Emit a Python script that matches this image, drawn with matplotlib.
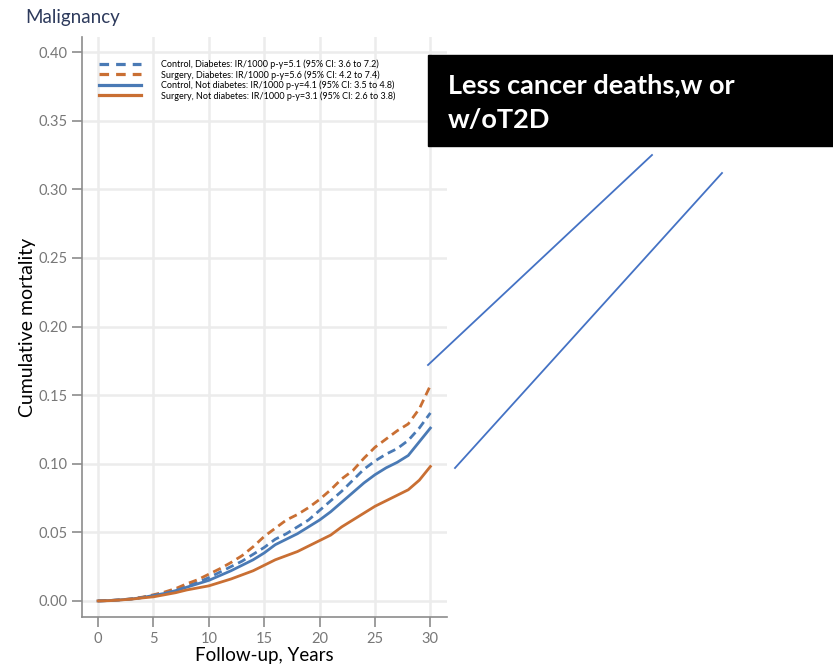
import matplotlib
matplotlib.use("agg")
import matplotlib.pyplot as plt
from matplotlib.patches import Rectangle
from matplotlib.lines import Line2D

plt.rcParams["font.family"] = ["Lato", "DejaVu Sans"]

years = list(range(31))

surgery_diab = [0, 0.0003, 0.0008, 0.0015, 0.0028, 0.0045, 0.0065, 0.009, 0.0125, 0.0155,
                0.0195, 0.0235, 0.028, 0.033, 0.0395, 0.047, 0.053, 0.059, 0.063, 0.068,
                0.074, 0.081, 0.089, 0.095, 0.104, 0.112, 0.118, 0.124, 0.129, 0.140, 0.157]
control_diab = [0, 0.0003, 0.0008, 0.0015, 0.0025, 0.004, 0.006, 0.008, 0.011, 0.0135,
                0.017, 0.021, 0.025, 0.029, 0.034, 0.039, 0.045, 0.049, 0.054, 0.059,
                0.066, 0.073, 0.080, 0.088, 0.096, 0.102, 0.107, 0.111, 0.117, 0.126, 0.137]
control_nodiab = [0, 0.0003, 0.0008, 0.0014, 0.0025, 0.004, 0.0055, 0.0075, 0.010, 0.0125,
                  0.015, 0.0185, 0.022, 0.026, 0.030, 0.035, 0.041, 0.045, 0.049, 0.054,
                  0.059, 0.065, 0.072, 0.079, 0.086, 0.092, 0.097, 0.101, 0.106, 0.116, 0.126]
surgery_nodiab = [0, 0.0002, 0.0007, 0.0013, 0.0022, 0.003, 0.0045, 0.006, 0.008, 0.0095,
                  0.011, 0.0135, 0.016, 0.019, 0.022, 0.026, 0.030, 0.033, 0.036, 0.040,
                  0.044, 0.048, 0.054, 0.059, 0.064, 0.069, 0.073, 0.077, 0.081, 0.088, 0.098]

labels = [
    "Control, Diabetes: IR/1000 p-y=5.1 (95% CI: 3.6 to 7.2)",
    "Surgery, Diabetes: IR/1000 p-y=5.6 (95% CI: 4.2 to 7.4)",
    "Control, Not diabetes: IR/1000 p-y=4.1 (95% CI: 3.5 to 4.8)",
    "Surgery, Not diabetes: IR/1000 p-y=3.1 (95% CI: 2.6 to 3.8)",
]
xticks = [0, 5, 10, 15, 20, 25, 30]
yticks = [0.0, 0.05, 0.10, 0.15, 0.20, 0.25, 0.30, 0.35, 0.40]

blue = "#4a7ab5"
orange = "#c96f33"
grey = "#8c8c8c"

fig = plt.figure(figsize=(8.33, 6.69), dpi=100)
ax = fig.add_axes([82 / 833, 1 - 617 / 669, 365 / 833, 580 / 669])

series = [
    (control_diab, blue, True),
    (surgery_diab, orange, True),
    (control_nodiab, blue, False),
    (surgery_nodiab, orange, False),
]
handles = []
for vals, col, dashed in series:
    ls = (0, (3, 1.8)) if dashed else "-"
    ax.plot(years, vals, color=col, ls=ls, lw=2)
    hls = (0, (3, 2.2)) if dashed else "-"
    handles.append(Line2D([], [], color=col, ls=hls, lw=2.3))

ax.set_xlim(-1.45, 31.5)
ax.set_ylim(-0.0117, 0.411)
ax.set_xticks(xticks)
ax.set_yticks(yticks)
ax.set_yticklabels([f"{v:.2f}" for v in yticks])
ax.grid(True, color="#ececec", lw=1.8)
ax.set_axisbelow(True)
for s in ["top", "right"]:
    ax.spines[s].set_visible(False)
for s in ["left", "bottom"]:
    ax.spines[s].set_color(grey)
    ax.spines[s].set_linewidth(1.2)
ax.tick_params(colors=grey, labelcolor="#777777", labelsize=10.5, length=7, width=1.2)

ax.set_xlabel("Follow-up, Years", fontsize=13.5, labelpad=1)
ax.set_ylabel("Cumulative mortality", fontsize=14, labelpad=2)

ax.legend(handles, labels, loc="upper left", bbox_to_anchor=(0.025, 0.975), frameon=False,
          fontsize=6.5, handlelength=4.6, handletextpad=2.2, labelspacing=0.1)

fig.text(25 / 833, 1 - 18 / 669, "Malignancy", fontsize=13.5, color="#2d3a5c",
         va="center", ha="left")

# annotation box with callout lines
fig.patches.append(Rectangle((428 / 833, 1 - 146 / 669), 405 / 833, 91 / 669,
                             transform=fig.transFigure, color="black", zorder=5))
fig.text(448 / 833, 1 - 85 / 669, "Less cancer deaths,w or", fontsize=19.5,
         fontweight="bold", color="white", va="center", ha="left", zorder=6)
fig.text(448 / 833, 1 - 120 / 669, "w/oT2D", fontsize=19.5,
         fontweight="bold", color="white", va="center", ha="left", zorder=6)
for (x0, y0), (x1, y1) in [((428, 365), (652, 155)), ((455, 468), (722, 173))]:
    fig.add_artist(Line2D([x0 / 833, x1 / 833], [1 - y0 / 669, 1 - y1 / 669],
                          transform=fig.transFigure, color="#4472c4", lw=1.3))

fig.savefig("out.png", dpi=100)
